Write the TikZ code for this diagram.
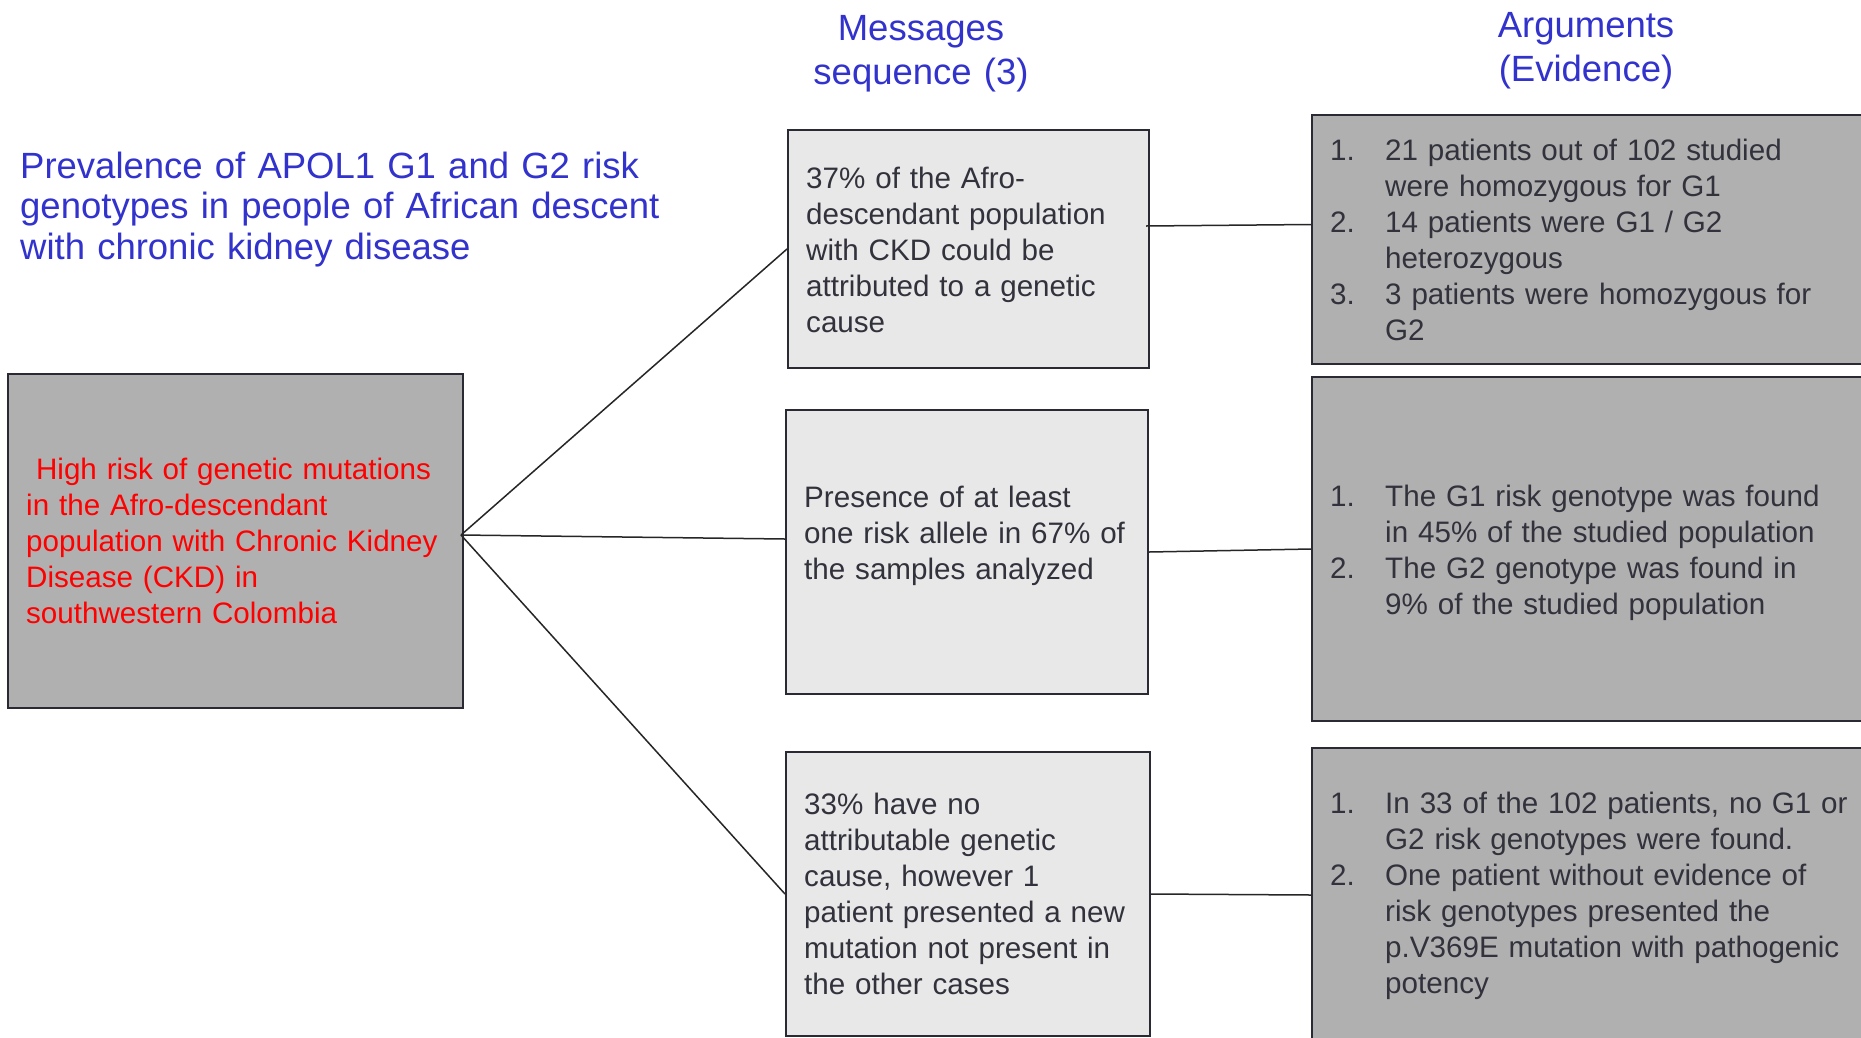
\documentclass[tikz,border=0pt]{standalone}
\usepackage{fontspec}
\setmainfont{Liberation Sans}
\definecolor{edge}{RGB}{42,42,52}
\definecolor{darkfill}{RGB}{176,176,176}
\definecolor{lightfill}{RGB}{232,232,232}
\definecolor{txtc}{RGB}{50,50,60}
\definecolor{titleblue}{RGB}{50,50,205}
\newcommand\lnum[1]{\makebox[55pt][l]{#1}}
\newcommand\lind{\hspace*{55pt}}
\tikzset{
  darkbox/.style={draw=edge, line width=2pt, fill=darkfill, inner sep=0pt, anchor=north west},
  lightbox/.style={draw=edge, line width=2pt, fill=lightfill, inner sep=0pt, anchor=north west},
  txt/.style={anchor=base west, inner sep=0pt, text width=560pt, align=left, text=txtc, font=\fontsize{29.6}{36}\selectfont},
  redtxt/.style={txt, text=red},
  coltitle/.style={anchor=base, inner sep=0pt, text width=400pt, align=center, text=titleblue, font=\fontsize{36.5}{44}\selectfont},
  maintitle/.style={anchor=base west, inner sep=0pt, text width=700pt, align=left, text=titleblue, font=\fontsize{36.5}{40.5}\selectfont},
  conn/.style={line width=1.5pt, draw=black!85}
}
\begin{document}
\begin{tikzpicture}[x=1pt,y=-1pt]
\useasboundingbox (0,0) rectangle (1861,1037);
\fill[white] (0,0) rectangle (1861,1037);

% titles
\node[coltitle] (tmsg) at (921,40) {Messages\\sequence (3)};
\node[coltitle] (targ) at (1586,37) {Arguments\\(Evidence)};
\node[maintitle] (tmain) at (20,178) {Prevalence of APOL1 G1 and G2 risk\\genotypes in people of African descent\\with chronic kidney disease};

% boxes
\node[darkbox, minimum width=455pt, minimum height=334pt] (L) at (7,373) {};
\node[lightbox, minimum width=361pt, minimum height=238pt] (M1) at (787,129) {};
\node[lightbox, minimum width=362pt, minimum height=284pt] (M2) at (785,409) {};
\node[lightbox, minimum width=364pt, minimum height=284pt] (M3) at (785,751) {};
\node[darkbox, minimum width=560pt, minimum height=249pt] (A1) at (1311,114) {};
\node[darkbox, minimum width=560pt, minimum height=344pt] (A2) at (1311,376) {};
\node[darkbox, minimum width=560pt, minimum height=300pt] (A3) at (1311,747) {};

% texts
\node[redtxt] (tL) at (26,479) {\ High risk of genetic mutations\\in the Afro-descendant\\population with Chronic Kidney\\Disease (CKD) in\\southwestern Colombia};
\node[txt] (tM1) at (806,188) {37\% of the Afro-\\descendant population\\with CKD could be\\attributed to a genetic\\cause};
\node[txt] (tM2) at (804,507) {Presence of at least\\one risk allele in 67\% of\\the samples analyzed};
\node[txt] (tM3) at (804,814) {33\% have no\\attributable genetic\\cause, however 1\\patient presented a new\\mutation not present in\\the other cases};
\node[txt] (tA1) at (1330,160) {\lnum{1.}21 patients out of 102 studied\\\lind were homozygous for G1\\\lnum{2.}14 patients were G1 / G2\\\lind heterozygous\\\lnum{3.}3 patients were homozygous for\\\lind G2};
\node[txt] (tA2) at (1330,506) {\lnum{1.}The G1 risk genotype was found\\\lind in 45\% of the studied population\\\lnum{2.}The G2 genotype was found in\\\lind 9\% of the studied population};
\node[txt] (tA3) at (1330,813) {\lnum{1.}In 33 of the 102 patients, no G1 or\\\lind G2 risk genotypes were found.\\\lnum{2.}One patient without evidence of\\\lind risk genotypes presented the\\\lind p.V369E mutation with pathogenic\\\lind potency};

% connectors
\coordinate (hub) at (461,535);
\draw[conn] (hub) -- (M1.west);
\draw[conn] (hub) -- ([yshift=13pt]M2.west);
\draw[conn] (hub) -- (M3.west);
\draw[conn] ([shift={(-4pt,23pt)}]M1.east) -- ([yshift=15pt]A1.west);
\draw[conn] (M2.east) -- (A2.west);
\draw[conn] (M3.east) -- ([yshift=3pt]A3.west);
\end{tikzpicture}
\end{document}
